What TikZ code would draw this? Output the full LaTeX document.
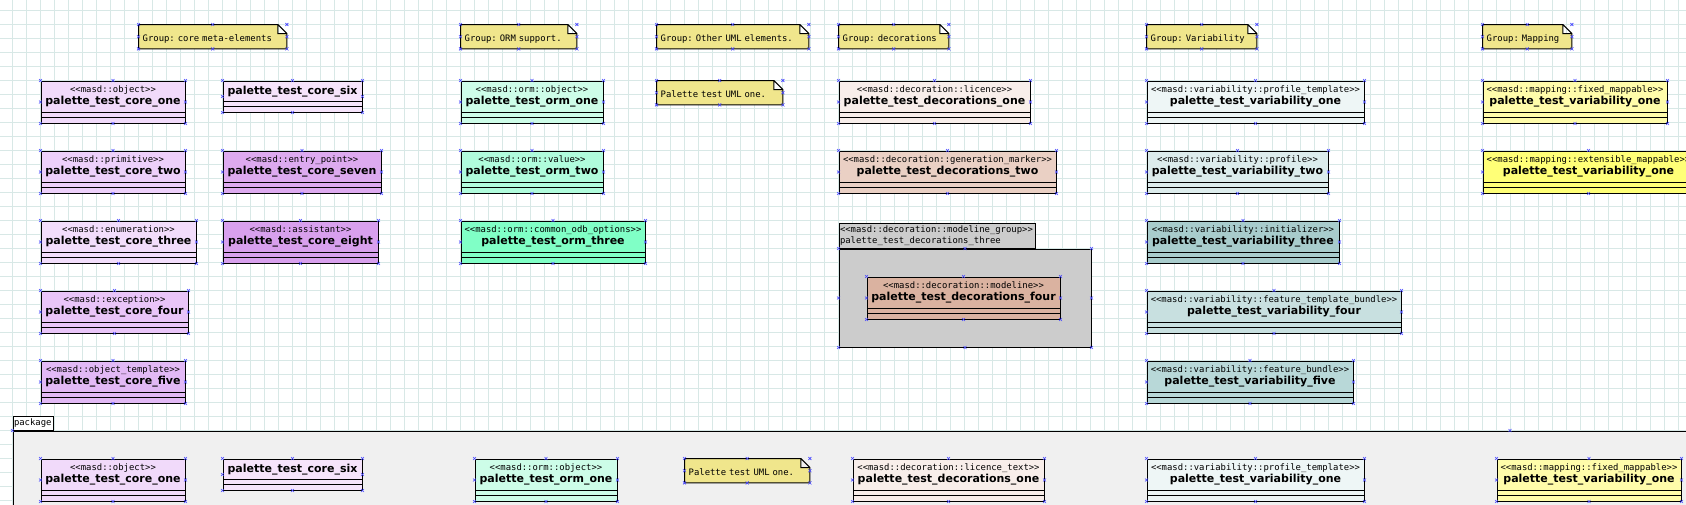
\documentclass[tikz,border=0pt]{standalone}
\usepackage{fontspec}
\setsansfont{DejaVu Sans}
\newfontfamily\dmono{DejaVu Sans Mono}
\usetikzlibrary{backgrounds}
\pgfdeclarelayer{gridlayer}
\pgfsetlayers{gridlayer,background,main}

\definecolor{coreone}{RGB}{241,218,250}
\definecolor{coresix}{RGB}{246,228,251}
\definecolor{coretwo}{RGB}{237,208,250}
\definecolor{coreseven}{RGB}{221,170,239}
\definecolor{corethree}{RGB}{242,221,251}
\definecolor{coreeight}{RGB}{216,160,237}
\definecolor{corefour}{RGB}{233,197,248}
\definecolor{corefive}{RGB}{226,185,245}
\definecolor{ormone}{RGB}{205,253,232}
\definecolor{ormtwo}{RGB}{176,252,220}
\definecolor{ormthree}{RGB}{128,255,198}
\definecolor{decone}{RGB}{248,238,234}
\definecolor{dectwo}{RGB}{234,208,196}
\definecolor{decfour}{RGB}{218,178,160}
\definecolor{grpgrey}{RGB}{204,204,204}
\definecolor{varone}{RGB}{238,246,246}
\definecolor{vartwo}{RGB}{220,236,236}
\definecolor{varthree}{RGB}{168,204,204}
\definecolor{varfour}{RGB}{200,224,224}
\definecolor{varfive}{RGB}{184,216,216}
\definecolor{mapone}{RGB}{255,252,170}
\definecolor{maptwo}{RGB}{255,255,119}
\definecolor{notecol}{RGB}{240,230,140}
\definecolor{pkgcol}{RGB}{240,240,240}
\definecolor{gridcol}{RGB}{216,232,230}
\definecolor{markcol}{RGB}{70,70,255}

\newcommand\stereo[1]{{\dmono\mdseries\fontsize{8.9}{12.2}\selectfont\rule{0pt}{7pt}#1}\\}
\newcommand\clname[1]{#1\rule[-14pt]{0pt}{23pt}}
\frenchspacing

\begin{document}
\begin{tikzpicture}[x=14pt, y=-14pt,
  umlclass/.style={draw, line width=1pt, fill=#1, anchor=north west, inner sep=0pt,
    minimum height=42pt, align=center, font=\fontsize{11}{12.2}\selectfont\sffamily\bfseries,
    path picture={\draw[line width=1pt]
      ([yshift=11pt]path picture bounding box.south west) -- ([yshift=11pt]path picture bounding box.south east)
      ([yshift=5.7pt]path picture bounding box.south west) -- ([yshift=5.7pt]path picture bounding box.south east);}},
  umlnote/.style={anchor=north west, text width=#1, inner xsep=4pt, inner ysep=0pt,
    minimum height=24pt, text height=12pt, text depth=2.2pt, align=left,
    font=\fontsize{8.9}{11}\selectfont\dmono\frenchspacing},
  notebody/.style={draw, line width=1pt, fill=notecol},
  tabbox/.style={draw, line width=1pt, anchor=south west, inner xsep=1pt, inner ysep=0pt,
    align=left, font=\fontsize{8.9}{11}\selectfont\dmono},
  framebox/.style={draw, line width=1pt, fill=#1, anchor=north west, inner sep=0pt},
  gridline/.style={draw=gridcol, line width=1pt},
  cpmark/.style={draw=markcol, line width=0.6pt}]
\useasboundingbox (-0.893,-0.75) rectangle (119.536,35.25);
\begin{pgfonlayer}{gridlayer}
\draw[gridline, step=14pt] (-1,-1) grid (120,36);
\end{pgfonlayer}

\begin{pgfonlayer}{background}
\node[tabbox, fill=white, minimum height=14pt, text width=38pt] (pkgtab) at (0,30) {package};
\node[framebox=pkgcol, minimum width=2994pt, minimum height=200pt] (pkgbody) at (0,30) {};
\end{pgfonlayer}

\node[umlnote=140pt] (gcore) at (9,1) {Group: core meta-elements};
\node[umlnote=108pt] (gorm) at (32,1) {Group: ORM support.};
\node[umlnote=144pt] (guml) at (46,1) {Group: Other UML elements.};
\node[umlnote=118pt] (umlone) at (46,5) {Palette test UML one.};
\node[umlnote=102pt] (gdec) at (59,1) {Group: decorations};
\node[umlnote=102pt] (gvar) at (81,1) {Group: Variability};
\node[umlnote=81pt] (gmap) at (105,1) {Group: Mapping};

\node[umlclass=coreone, minimum width=144pt] (core1) at (2,5) {\stereo{<<masd::object>>}\clname{palette\_test\_core\_one}};
\node[umlclass=coresix, minimum width=139pt, minimum height=31pt] (core6) at (15,5) {\clname{palette\_test\_core\_six}};
\node[umlclass=coretwo, minimum width=144pt] (core2) at (2,10) {\stereo{<<masd::primitive>>}\clname{palette\_test\_core\_two}};
\node[umlclass=coreseven, minimum width=158pt] (core7) at (15,10) {\stereo{<<masd::entry\_point>>}\clname{palette\_test\_core\_seven}};
\node[umlclass=corethree, minimum width=155pt] (core3) at (2,15) {\stereo{<<masd::enumeration>>}\clname{palette\_test\_core\_three}};
\node[umlclass=coreeight, minimum width=155pt] (core8) at (15,15) {\stereo{<<masd::assistant>>}\clname{palette\_test\_core\_eight}};
\node[umlclass=corefour, minimum width=147pt] (core4) at (2,20) {\stereo{<<masd::exception>>}\clname{palette\_test\_core\_four}};
\node[umlclass=corefive, minimum width=144pt] (core5) at (2,25) {\stereo{<<masd::object\_template>>}\clname{palette\_test\_core\_five}};

\node[umlclass=ormone, minimum width=142pt] (orm1) at (32,5) {\stereo{<<masd::orm::object>>}\clname{palette\_test\_orm\_one}};
\node[umlclass=ormtwo, minimum width=142pt] (orm2) at (32,10) {\stereo{<<masd::orm::value>>}\clname{palette\_test\_orm\_two}};
\node[umlclass=ormthree, minimum width=184pt] (orm3) at (32,15) {\stereo{<<masd::orm::common\_odb\_options>>}\clname{palette\_test\_orm\_three}};

\node[umlclass=decone, minimum width=191pt] (dec1) at (59,5) {\stereo{<<masd::decoration::licence>>}\clname{palette\_test\_decorations\_one}};
\node[umlclass=dectwo, minimum width=217pt] (dec2) at (59,10) {\stereo{<<masd::decoration::generation\_marker>>}\clname{palette\_test\_decorations\_two}};
\node[tabbox, fill=grpgrey, minimum height=25pt, text width=194pt] (grp3) at (59,17) {<<masd::decoration::modeline\_group>>\\palette\_test\_decorations\_three};
\node[framebox=grpgrey, minimum width=252pt, minimum height=98pt] (grp3body) at (59,17) {};
\node[umlclass=decfour, minimum width=193pt] (dec4) at (61,19) {\stereo{<<masd::decoration::modeline>>}\clname{palette\_test\_decorations\_four}};

\node[umlclass=varone, minimum width=217pt] (var1) at (81,5) {\stereo{<<masd::variability::profile\_template>>}\clname{palette\_test\_variability\_one}};
\node[umlclass=vartwo, minimum width=181pt] (var2) at (81,10) {\stereo{<<masd::variability::profile>>}\clname{palette\_test\_variability\_two}};
\node[umlclass=varthree, minimum width=192pt] (var3) at (81,15) {\stereo{<<masd::variability::initializer>>}\clname{palette\_test\_variability\_three}};
\node[umlclass=varfour, minimum width=254pt] (var4) at (81,20) {\stereo{<<masd::variability::feature\_template\_bundle>>}\clname{palette\_test\_variability\_four}};
\node[umlclass=varfive, minimum width=206pt] (var5) at (81,25) {\stereo{<<masd::variability::feature\_bundle>>}\clname{palette\_test\_variability\_five}};

\node[umlclass=mapone, minimum width=184pt] (map1) at (105,5) {\stereo{<<masd::mapping::fixed\_mappable>>}\clname{palette\_test\_variability\_one}};
\node[umlclass=maptwo, minimum width=211pt] (map2) at (105,10) {\stereo{<<masd::mapping::extensible\_mappable>>}\clname{palette\_test\_variability\_one}};

\node[umlclass=coreone, minimum width=144pt] (pcore1) at (2,32) {\stereo{<<masd::object>>}\clname{palette\_test\_core\_one}};
\node[umlclass=coresix, minimum width=139pt, minimum height=31pt] (pcore6) at (15,32) {\clname{palette\_test\_core\_six}};
\node[umlclass=ormone, minimum width=142pt] (porm1) at (33,32) {\stereo{<<masd::orm::object>>}\clname{palette\_test\_orm\_one}};
\node[umlnote=117pt] (pnote) at (48,32) {Palette test UML one.};
\node[umlclass=decone, minimum width=191pt] (pdec1) at (60,32) {\stereo{<<masd::decoration::licence\_text>>}\clname{palette\_test\_decorations\_one}};
\node[umlclass=varone, minimum width=217pt] (pvar1) at (81,32) {\stereo{<<masd::variability::profile\_template>>}\clname{palette\_test\_variability\_one}};
\node[umlclass=mapone, minimum width=184pt] (pmap1) at (106,32) {\stereo{<<masd::mapping::fixed\_mappable>>}\clname{palette\_test\_variability\_one}};

\begin{pgfonlayer}{background}
\foreach \n in {gcore,gorm,guml,umlone,gdec,gvar,gmap,pnote}
  \draw[notebody] (\n.north west) -- ([xshift=-9pt]\n.north east) -- ([yshift=-9pt]\n.north east)
    -- (\n.south east) -- (\n.south west) -- cycle
    ([xshift=-9pt]\n.north east) |- ([yshift=-9pt]\n.north east);
\end{pgfonlayer}

\foreach \n in {gcore,gorm,guml,umlone,gdec,gvar,gmap,core1,core6,core2,core7,core3,core8,core4,core5,
    orm1,orm2,orm3,dec1,dec2,grp3body,dec4,var1,var2,var3,var4,var5,map1,map2,
    pkgbody,pcore1,pcore6,porm1,pnote,pdec1,pvar1,pmap1}
  \foreach \a in {north west,north,north east,east,south east,south,south west,west}
    \draw[cpmark] (\n.\a) +(-1.5pt,-1.5pt) -- +(1.5pt,1.5pt) +(-1.5pt,1.5pt) -- +(1.5pt,-1.5pt);
\end{tikzpicture}
\end{document}
